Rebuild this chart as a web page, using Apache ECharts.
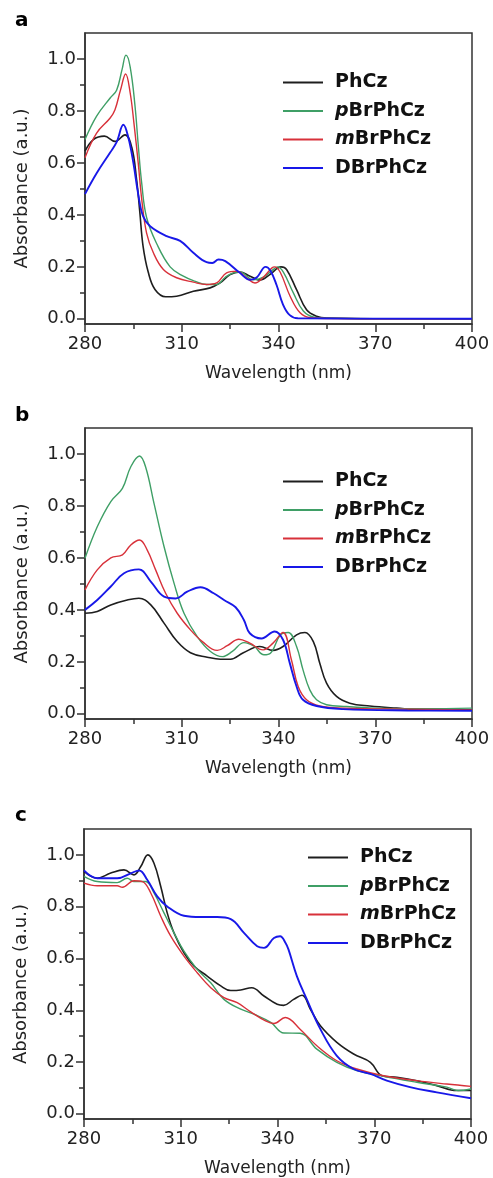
<!DOCTYPE html>
<html>
<head>
<meta charset="utf-8">
<script src="https://cdn.jsdelivr.net/npm/echarts@6/dist/echarts.min.js"></script>
<style>
html,body{margin:0;padding:0;background:#fff;}
#chart{width:493px;height:1178px;}
</style>
</head>
<body>
<div id="chart"></div>
<script>
// ---- tick labels / categories ----
const wavelengthTicks = [280, 310, 340, 370, 400];
const wavelengthMinorTicks = [295, 325, 355, 385];
const absorbanceTicks = [0, 0.2, 0.4, 0.6, 0.8, 1.0];
const absorbanceMinorTicks = [0.1, 0.3, 0.5, 0.7, 0.9];
const seriesNames = ['PhCz', 'pBrPhCz', 'mBrPhCz', 'DBrPhCz'];
const panelLabels = ['a', 'b', 'c'];

// ---- panel a: [wavelength nm, absorbance] ----
const a_PhCz = [[280,0.645],[282.6,0.69],[286,0.703],[289.3,0.683],[292.4,0.708],[294.5,0.66],[296,0.536],[297,0.41],[298,0.28],[299.6,0.18],[301.7,0.113],[305,0.085],[308.4,0.087],[313.6,0.106],[318.8,0.119],[321.9,0.138],[325,0.17],[328,0.18],[331.2,0.164],[334.3,0.149],[337.3,0.17],[340.8,0.2],[342.5,0.19],[345.6,0.112],[348.7,0.035],[351.8,0.01],[355,0.003],[370,0.0],[400,0.0]];
const a_pBrPhCz = [[280,0.69],[283.6,0.78],[287.8,0.85],[289.8,0.88],[291.5,0.96],[292.7,1.015],[294,0.97],[295.5,0.82],[296.5,0.67],[297.6,0.52],[299.1,0.39],[302.2,0.29],[306.4,0.2],[310.5,0.164],[314,0.145],[317.7,0.132],[320.8,0.132],[323.5,0.16],[326,0.177],[328,0.18],[332.2,0.15],[335.3,0.16],[338.4,0.19],[339.7,0.2],[341.5,0.18],[344.6,0.1],[347.7,0.03],[351,0.006],[355,0.002],[400,0.0]];
const a_mBrPhCz = [[280,0.62],[283.6,0.715],[287.8,0.773],[289.3,0.805],[291,0.88],[292.6,0.942],[294,0.87],[295.2,0.75],[296.5,0.6],[297.6,0.459],[299.1,0.33],[301.2,0.254],[304.3,0.19],[308.4,0.158],[313.6,0.141],[317.7,0.132],[320.8,0.138],[323.9,0.177],[327,0.183],[330.1,0.158],[332.7,0.138],[335.3,0.16],[337.9,0.195],[338.8,0.2],[340.5,0.18],[343.6,0.087],[346.7,0.023],[350,0.004],[355,0.001],[400,0.0]];
const a_DBrPhCz = [[280,0.48],[283.6,0.56],[287.8,0.64],[289.8,0.68],[291.9,0.747],[293.4,0.70],[295,0.60],[296.5,0.48],[298,0.395],[300.2,0.356],[305.3,0.318],[309.5,0.3],[313.6,0.254],[317.7,0.218],[319.5,0.215],[321.4,0.228],[323.5,0.222],[328,0.177],[331.2,0.15],[333.3,0.16],[336,0.2],[337.5,0.185],[339.4,0.13],[341.4,0.055],[343.5,0.014],[346,0.002],[400,0.0]];

// ---- panel b ----
const b_PhCz = [[280,0.387],[283.8,0.394],[288,0.419],[293.1,0.438],[296.7,0.445],[300.4,0.419],[304.5,0.349],[308.6,0.278],[312.7,0.235],[317.9,0.218],[322,0.21],[325.1,0.21],[329.1,0.235],[334.2,0.259],[338.3,0.244],[341.4,0.259],[345.6,0.304],[348.2,0.313],[350.8,0.278],[352.8,0.195],[354.9,0.118],[358,0.067],[362.1,0.041],[368.3,0.03],[376.6,0.022],[385,0.016],[400,0.015]];
const b_pBrPhCz = [[280,0.599],[283.8,0.72],[288,0.817],[291.6,0.868],[294.2,0.951],[296.9,0.992],[298.8,0.95],[301.4,0.81],[304.5,0.644],[307.6,0.503],[310.7,0.387],[314.8,0.297],[318.9,0.24],[322.6,0.22],[325.7,0.24],[329.3,0.274],[332.4,0.26],[335.5,0.227],[337.5,0.233],[340.6,0.304],[343,0.313],[345.6,0.259],[347.6,0.169],[349.7,0.092],[351.8,0.054],[354.9,0.035],[361.1,0.028],[370,0.022],[385,0.02],[400,0.022]];
const b_mBrPhCz = [[280,0.477],[283.8,0.554],[288,0.6],[291.6,0.612],[294.2,0.65],[296.9,0.669],[299.3,0.63],[301.9,0.554],[305,0.464],[308.6,0.387],[312.7,0.323],[316.4,0.278],[321,0.244],[324.1,0.262],[327.7,0.287],[331.1,0.272],[335.2,0.246],[338.3,0.272],[341.4,0.313],[344,0.208],[346.1,0.105],[348.7,0.054],[352.8,0.03],[360,0.022],[380,0.018],[400,0.015]];
const b_DBrPhCz = [[280,0.4],[283.8,0.438],[288,0.49],[292.1,0.541],[296.7,0.556],[300.4,0.509],[304.5,0.451],[308.1,0.444],[311.7,0.47],[315.8,0.487],[319.9,0.464],[323.1,0.438],[326.7,0.41],[329.3,0.36],[331.1,0.31],[334.7,0.29],[338.8,0.317],[341.4,0.285],[343.5,0.195],[345.6,0.105],[347.6,0.054],[351.8,0.03],[360,0.018],[380,0.013],[400,0.012]];

// ---- panel c ----
const c_PhCz = [[280,0.936],[284.1,0.91],[288.3,0.93],[292.4,0.942],[295.5,0.923],[297.6,0.955],[299.8,1.0],[301.7,0.968],[303.8,0.878],[305.8,0.776],[307.9,0.699],[311,0.622],[314.1,0.571],[318.2,0.532],[322.4,0.494],[325.5,0.476],[328.6,0.478],[332,0.487],[335.8,0.455],[339.9,0.423],[341.9,0.419],[345,0.442],[347.6,0.458],[350.2,0.404],[353.3,0.34],[358.4,0.276],[363.6,0.231],[368.8,0.199],[372.4,0.147],[377,0.141],[383.2,0.128],[389.4,0.109],[395.6,0.09],[400,0.09]];
const c_pBrPhCz = [[280,0.917],[284.1,0.897],[290.3,0.893],[293.4,0.91],[295.5,0.897],[299.1,0.897],[301.7,0.853],[304.8,0.776],[307.9,0.699],[311,0.628],[315.1,0.558],[319.3,0.506],[323.4,0.442],[328.6,0.404],[332.7,0.385],[337.9,0.353],[342,0.312],[347,0.311],[352.2,0.25],[358.4,0.199],[364.6,0.167],[372.9,0.145],[383.2,0.122],[392.5,0.103],[396,0.09],[400,0.096]];
const c_mBrPhCz = [[280,0.891],[284.1,0.881],[290.3,0.881],[291.9,0.875],[295.5,0.9],[298.1,0.897],[300.7,0.853],[303.8,0.763],[306.9,0.686],[311,0.609],[315.1,0.545],[319.3,0.487],[323.4,0.449],[327.5,0.429],[331.7,0.394],[336.3,0.359],[338.9,0.349],[342.4,0.372],[347,0.327],[352.2,0.263],[358.4,0.205],[364.6,0.173],[372.9,0.147],[383.2,0.128],[392.5,0.115],[400,0.106]];
const c_DBrPhCz = [[280,0.94],[284.1,0.91],[290.3,0.91],[294.5,0.929],[297.1,0.94],[299.6,0.904],[302.7,0.84],[305.8,0.801],[311,0.765],[316.2,0.76],[321.3,0.76],[325.5,0.752],[329.6,0.699],[333.7,0.647],[335.8,0.641],[338.9,0.679],[340.8,0.686],[342.5,0.66],[343.4,0.635],[346,0.532],[349.1,0.442],[353.3,0.327],[358.4,0.224],[363.6,0.173],[368.8,0.154],[373.9,0.128],[381.1,0.103],[389.4,0.083],[400,0.06]];

const panelData = [
  [a_PhCz, a_pBrPhCz, a_mBrPhCz, a_DBrPhCz],
  [b_PhCz, b_pBrPhCz, b_mBrPhCz, b_DBrPhCz],
  [c_PhCz, c_pBrPhCz, c_mBrPhCz, c_DBrPhCz]
];

// ---- styling ----
const FONT = '"DejaVu Sans", "Liberation Sans", Arial, sans-serif';
const colors = ['#1e1e1e', '#3f9f66', '#d8313a', '#1818e8'];
const widths = [1.6, 1.4, 1.4, 1.9];
const AX = '#333';
const grids = [
  { left: 85, right: 21, top: 33, height: 291 },
  { left: 85, right: 21, top: 428, height: 291 },
  { left: 84, right: 22, top: 829, height: 291 }
];
const legendPos = [
  { left: 283, top: 73 },
  { left: 283, top: 472 },
  { left: 308, top: 848 }
];
const labelTops = [11, 406, 806];

const xAxes = [], yAxes = [], series = [], legends = [], graphics = [];
grids.forEach((g, i) => {
  xAxes.push({
    type: 'value', gridIndex: i, position: 'bottom', min: 280, max: 400,
    axisLine: { show: true, onZero: false, lineStyle: { color: AX, width: 1.5 } },
    axisTick: { show: true, inside: false, length: 8, customValues: wavelengthTicks, lineStyle: { color: AX, width: 1.5 } },
    axisLabel: { customValues: wavelengthTicks, margin: 11, fontSize: 18, fontFamily: FONT, color: '#222' },
    splitLine: { show: false },
    name: 'Wavelength (nm)', nameLocation: 'middle', nameGap: 41,
    nameTextStyle: { fontSize: 17, fontFamily: FONT, color: '#222' }
  });
  xAxes.push({
    type: 'value', gridIndex: i, position: 'bottom', min: 280, max: 400,
    axisLine: { show: false, onZero: false },
    axisTick: { show: true, inside: false, length: 5, customValues: wavelengthMinorTicks, lineStyle: { color: AX, width: 1.5 } },
    axisLabel: { show: false },
    splitLine: { show: false }
  });
  yAxes.push({
    type: 'value', gridIndex: i, position: 'left', min: -0.02, max: 1.1,
    axisLine: { show: true, onZero: false, lineStyle: { color: AX, width: 1.5 } },
    axisTick: { show: true, inside: false, length: 8, customValues: absorbanceTicks, lineStyle: { color: AX, width: 1.5 } },
    axisLabel: { customValues: absorbanceTicks, margin: 9, fontSize: 18, fontFamily: FONT, color: '#222', formatter: v => v.toFixed(1) },
    splitLine: { show: false },
    name: 'Absorbance (a.u.)', nameLocation: 'middle', nameGap: 54,
    nameTextStyle: { fontSize: 18, fontFamily: FONT, color: '#222', padding: [0, 20, 0, 0] }
  });
  yAxes.push({
    type: 'value', gridIndex: i, position: 'left', min: -0.02, max: 1.1,
    axisLine: { show: false, onZero: false },
    axisTick: { show: true, inside: false, length: 5, customValues: absorbanceMinorTicks, lineStyle: { color: AX, width: 1.5 } },
    axisLabel: { show: false },
    splitLine: { show: false }
  });
  seriesNames.forEach((name, k) => {
    series.push({
      name: name, type: 'line', xAxisIndex: 2 * i, yAxisIndex: 2 * i,
      data: panelData[i][k], symbol: 'none', showSymbol: false,
      smooth: 0.4,
      lineStyle: { color: colors[k], width: widths[k] },
      itemStyle: { color: colors[k] },
      z: 2 + k
    });
  });
  legends.push({
    orient: 'vertical', left: legendPos[i].left, top: legendPos[i].top, padding: 0,
    itemWidth: 40, itemHeight: 2, itemGap: 9.5, icon: 'rect',
    data: seriesNames,
    formatter: n => (n[0] === 'p' || n[0] === 'm') ? '{sp| }{it|' + n[0] + '}{b|' + n.slice(1) + '}' : '{sp| }{b|' + n + '}',
    textStyle: {
      fontFamily: FONT, fontSize: 19, fontWeight: 'bold', color: '#111',
      rich: {
        sp: { width: 7, fontSize: 19, lineHeight: 20 },
        it: { fontFamily: FONT, fontSize: 19, fontWeight: 'bold', fontStyle: 'italic', color: '#111', lineHeight: 20 },
        b: { fontFamily: FONT, fontSize: 19, fontWeight: 'bold', color: '#111', lineHeight: 20 }
      }
    }
  });
  graphics.push({
    type: 'text', left: 15, top: labelTops[i],
    style: { text: panelLabels[i], font: 'bold 20px ' + FONT, fill: '#000' }
  });
});

const chart = echarts.init(document.getElementById('chart'), null, { renderer: 'canvas' });
chart.setOption({
  animation: false,
  backgroundColor: '#fff',
  grid: grids.map(g => Object.assign({ show: true, borderColor: AX, borderWidth: 1.5, backgroundColor: 'transparent' }, g)),
  xAxis: xAxes,
  yAxis: yAxes,
  legend: legends,
  series: series,
  graphic: graphics
});
</script>
</body>
</html>
